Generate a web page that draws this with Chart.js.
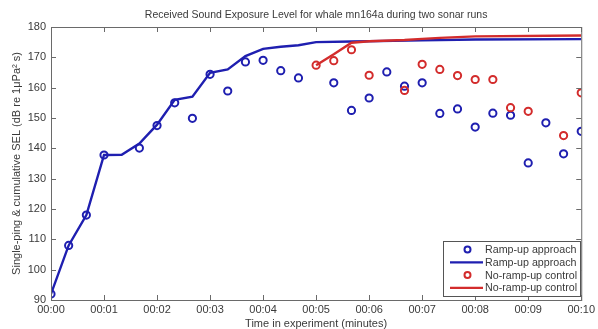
<!DOCTYPE html>
<html>
<head>
<meta charset="utf-8">
<script src="https://cdn.jsdelivr.net/npm/chart.js@4.4.1/dist/chart.umd.min.js"></script>
<style>
  html,body{margin:0;padding:0;background:#fff;}
  #wrap{width:598px;height:329px;}
</style>
</head>
<body>
<div id="wrap"><canvas id="sel"></canvas></div>
<script>
/* ── DATA ── (time in minutes, SEL in dB) */
const rampPingT   = [0,0.333,0.667,1,1.667,2,2.333,2.667,3,3.333,3.667,4,4.333,4.667,5.333,5.667,6,6.333,6.667,7,7.333,7.667,8,8.333,8.667,9,9.333,9.667,10];
const rampPingSEL = [92,108,118,137.8,140.1,147.5,155,149.9,164.4,158.9,168.5,169,165.6,163.2,161.6,152.5,156.6,165.2,160.5,161.6,151.5,153,147,151.6,150.9,135.2,148.4,138.2,145.6];

const rampCumT    = [0,0.333,0.667,1,1.333,1.667,2,2.333,2.667,3,3.333,3.667,4,4.333,4.667,5,5.667,7,8,10];
const rampCumSEL  = [92,108,118,137.8,137.9,141.6,147.8,156,157,164.9,166,170.4,172.8,173.5,174,175,175.2,175.6,175.9,176];

const ctrlPingT   = [5,5.333,5.667,6,6.667,7,7.333,7.667,8,8.333,8.667,9,9.667,10];
const ctrlPingSEL = [167.4,168.9,172.5,164.1,159.1,167.7,166,164,162.7,162.7,153.4,152.2,144.2,158.3];

const ctrlCumT    = [5,5.333,5.667,6,6.667,7,7.333,8,10];
const ctrlCumSEL  = [167.4,171,174.8,175.3,175.7,176.1,176.4,176.9,177.2];

const xTicks = [0,1,2,3,4,5,6,7,8,9,10];
const yTicks = [90,100,110,120,130,140,150,160,170,180];

const TITLE = 'Received Sound Exposure Level for whale mn164a during two sonar runs';
const BLUE = '#1f1fb0', RED = '#d32c2c', TXT = '#3a3a3a', AX = '#6a6a6a';
const FONT = '"Liberation Sans", Arial, sans-serif';

const pts = (xs,ys) => xs.map((x,i)=>({x, y:ys[i]}));
const fmtT = v => '00:' + String(v).padStart(2,'0');

/* ── MATLAB-style box with inward ticks, title over the plot, legend inside ── */
const boxPlugin = {
  id:'box',
  afterDatasetsDraw(chart) {
    const {ctx, chartArea:a, scales:{x,y}} = chart;
    ctx.save();
    ctx.strokeStyle = AX; ctx.lineWidth = 1;
    ctx.strokeRect(a.left+0.5, a.top+0.5, a.right-a.left, a.bottom-a.top);
    ctx.beginPath();
    const L = 5;
    xTicks.forEach(v=>{
      const px = Math.round(x.getPixelForValue(v))+0.5;
      ctx.moveTo(px,a.bottom); ctx.lineTo(px,a.bottom-L);
      ctx.moveTo(px,a.top); ctx.lineTo(px,a.top+L);
    });
    yTicks.forEach(v=>{
      const py = Math.round(y.getPixelForValue(v))+0.5;
      ctx.moveTo(a.left,py); ctx.lineTo(a.left+L,py);
      ctx.moveTo(a.right,py); ctx.lineTo(a.right-L,py);
    });
    ctx.stroke();

    // title, centred on the axes box
    ctx.fillStyle = TXT;
    ctx.font = '10.5px ' + FONT;
    ctx.textAlign = 'center'; ctx.textBaseline = 'middle';
    ctx.fillText(TITLE, (a.left+a.right)/2, 15.5);

    // legend
    const lx = 443, ly = 241, lw = 137, lh = 55;
    ctx.fillStyle = '#fff';
    ctx.fillRect(lx, ly, lw, lh);
    ctx.strokeStyle = '#555';
    ctx.strokeRect(lx+0.5, ly+0.5, lw, lh);
    ctx.font = '10.7px ' + FONT;
    ctx.textAlign = 'left';
    chart.data.datasets.forEach((ds,i)=>{
      const cy = ly + 8.5 + i*12.8;
      if (ds.showLine) {
        ctx.strokeStyle = ds.borderColor; ctx.lineWidth = 2.2;
        ctx.beginPath(); ctx.moveTo(lx+7, cy); ctx.lineTo(lx+40, cy); ctx.stroke();
      } else {
        ctx.strokeStyle = ds.pointBorderColor; ctx.lineWidth = 2;
        ctx.beginPath(); ctx.arc(lx+24.5, cy, 3, 0, Math.PI*2); ctx.stroke();
      }
      ctx.fillStyle = TXT;
      ctx.fillText(ds.label, lx+42, cy+0.5);
    });
    ctx.restore();
  }
};

new Chart(document.getElementById('sel'), {
  type:'scatter',
  data:{ datasets:[
    { label:'Ramp-up approach', data:pts(rampPingT,rampPingSEL), showLine:false,
      pointStyle:'circle', pointRadius:3.6, pointBorderWidth:2, pointBorderColor:BLUE,
      pointBackgroundColor:'rgba(0,0,0,0)', borderColor:BLUE, order:2 },
    { label:'Ramp-up approach', data:pts(rampCumT,rampCumSEL), showLine:true,
      borderColor:BLUE, borderWidth:2.4, pointRadius:0, tension:0, order:3 },
    { label:'No-ramp-up control', data:pts(ctrlPingT,ctrlPingSEL), showLine:false,
      pointStyle:'circle', pointRadius:3.6, pointBorderWidth:2, pointBorderColor:RED,
      pointBackgroundColor:'rgba(0,0,0,0)', borderColor:RED, order:0 },
    { label:'No-ramp-up control', data:pts(ctrlCumT,ctrlCumSEL), showLine:true,
      borderColor:RED, borderWidth:2.4, pointRadius:0, tension:0, order:1 }
  ]},
  options:{
    responsive:true, maintainAspectRatio:false, animation:false,
    layout:{padding:{top:27, right:13, left:0, bottom:0}},
    plugins:{ legend:{display:false}, tooltip:{enabled:false}, title:{display:false} },
    scales:{
      x:{ type:'linear', min:0, max:10,
        afterBuildTicks: s => { s.ticks = xTicks.map(v=>({value:v})); },
        afterFit: s => { s.height = 29; },
        grid:{display:false, drawTicks:false, tickLength:0}, border:{display:false},
        ticks:{color:TXT, font:{family:FONT, size:11}, padding:3, maxRotation:0, autoSkip:false, callback:fmtT},
        title:{display:true, text:'Time in experiment (minutes)', color:TXT, font:{family:FONT, size:11, lineHeight:1}, padding:{top:0,bottom:0}}
      },
      y:{ type:'linear', min:90, max:180,
        afterBuildTicks: s => { s.ticks = yTicks.map(v=>({value:v})); },
        afterFit: s => { s.width = 51; },
        grid:{display:false, drawTicks:false, tickLength:0}, border:{display:false},
        ticks:{color:TXT, font:{family:FONT, size:11}, padding:5},
        title:{display:true, text:'Single-ping & cumulative SEL (dB re 1\u03BCPa\u00B2 s)', color:TXT, font:{family:FONT, size:11}, padding:{top:10,bottom:0}}
      }
    }
  },
  plugins:[boxPlugin]
});
</script>
</body>
</html>
